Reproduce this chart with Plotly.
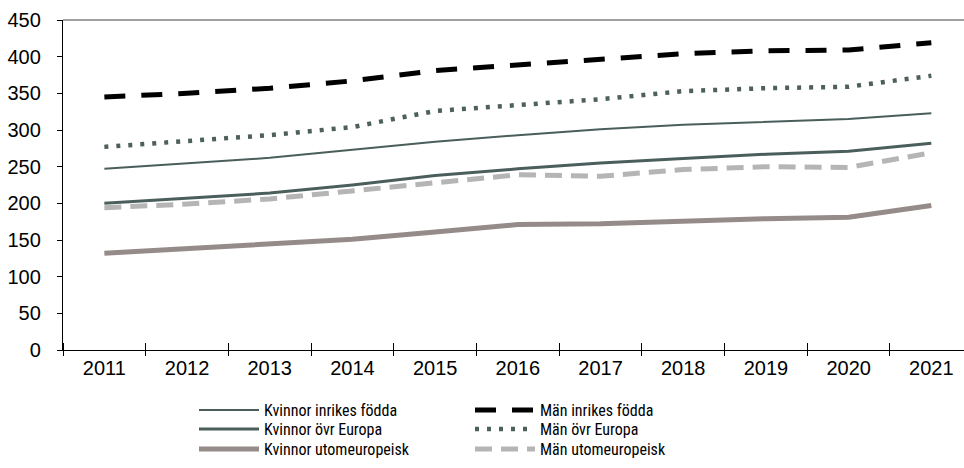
import plotly.graph_objects as go

years = [2011, 2012, 2013, 2014, 2015, 2016, 2017, 2018, 2019, 2020, 2021]
k_inrikes = [247, 254, 262, 273, 284, 293, 301, 307, 311, 315, 323]
k_ovr_europa = [200, 207, 214, 225, 238, 247, 255, 261, 267, 271, 282]
k_utomeuropeisk = [132, 138, 144, 151, 161, 171, 172, 176, 179, 181, 197]
m_inrikes = [345, 350, 357, 367, 381, 389, 396, 404, 408, 409, 419]
m_ovr_europa = [277, 285, 293, 304, 326, 334, 342, 353, 357, 359, 374]
m_utomeuropeisk = [194, 199, 206, 217, 229, 239, 237, 246, 250, 249, 269]

names = ["Kvinnor inrikes födda", "Kvinnor övr Europa", "Kvinnor utomeuropeisk",
         "Män inrikes födda", "Män övr Europa", "Män utomeuropeisk"]

boundaries = [y + 0.5 for y in range(2010, 2021)]
yticks = [0, 50, 100, 150, 200, 250, 300, 350, 400, 450]

LEG_FONT = "Roboto Condensed, Liberation Sans, sans-serif"
L, T, W, H = 63, 20, 901, 330


def px_x(px):
    return (px - L) / W


def px_y(py):
    return (T + H - py) / H


series = [
    (k_inrikes, names[0], dict(color="#4a5f5b", width=2)),
    (k_ovr_europa, names[1], dict(color="#4a5f5b", width=3)),
    (k_utomeuropeisk, names[2], dict(color="#958c89", width=5)),
    (m_inrikes, names[3], dict(color="#000000", width=5, dash="21px,16px")),
    (m_ovr_europa, names[4], dict(color="#4d605c", width=4.5, dash="4px,8px")),
    (m_utomeuropeisk, names[5], dict(color="#b5b5b5", width=5, dash="17px,9px")),
]
rows = [410, 429, 449]
cols = [194, 470]

fig = go.Figure()
legends = {}
for i, (vals, name, line) in enumerate(series):
    lg = "legend" if i == 0 else f"legend{i + 1}"
    fig.add_trace(go.Scatter(x=years, y=vals, name=name, mode="lines", line=line, legend=lg))
    legends[lg] = dict(x=px_x(cols[i // 3]), y=px_y(rows[i % 3]), xanchor="left",
                       yanchor="middle", orientation="v", itemwidth=60,
                       font=dict(family=LEG_FONT, size=16, color="#000"),
                       bgcolor="rgba(0,0,0,0)", borderwidth=0)

# invisible trace to anchor the secondary x-axis (outside tick marks)
fig.add_trace(go.Scatter(x=[years[0]], y=[None], xaxis="x2", showlegend=False, hoverinfo="skip"))

xr = [2010.5, 2021.395]
fig.update_layout(
    width=964, height=468,
    margin=dict(l=L, r=964 - L - W, t=T, b=468 - T - H, autoexpand=False),
    paper_bgcolor="white", plot_bgcolor="white",
    font=dict(family="Liberation Sans, Arial, sans-serif", size=20, color="#000"),
    xaxis=dict(range=xr, tickmode="array", tickvals=years, ticktext=[str(y) for y in years],
               ticks="", showgrid=False, zeroline=False, showline=True, linecolor="#000",
               linewidth=1.3, automargin=False,
               minor=dict(tickmode="array", tickvals=boundaries, ticks="inside", ticklen=7,
                          tickcolor="#000", tickwidth=1.2, showgrid=False),
               tickfont=dict(size=20)),
    xaxis2=dict(range=xr, overlaying="x", side="bottom", anchor="y", tickmode="array",
                tickvals=boundaries, ticks="outside", ticklen=5, tickcolor="#000", tickwidth=1.2,
                showticklabels=False, showgrid=False, zeroline=False, showline=False,
                automargin=False),
    yaxis=dict(range=[0, 450], tickmode="array", tickvals=yticks, ticks="outside", ticklen=5,
               tickcolor="#000", showgrid=False, zeroline=False, showline=True,
               linecolor="#000", linewidth=1.3, tickfont=dict(size=20), automargin=False,
               ticklabelstandoff=12),
    shapes=[dict(type="line", xref="paper", yref="paper", x0=0, x1=1, y0=1, y1=1,
                 line=dict(color="#808080", width=1.5))],
    showlegend=True,
    **legends,
)

fig.write_html("out.html", config={"displayModeBar": False},
               post_script="document.body.style.margin='0';")
